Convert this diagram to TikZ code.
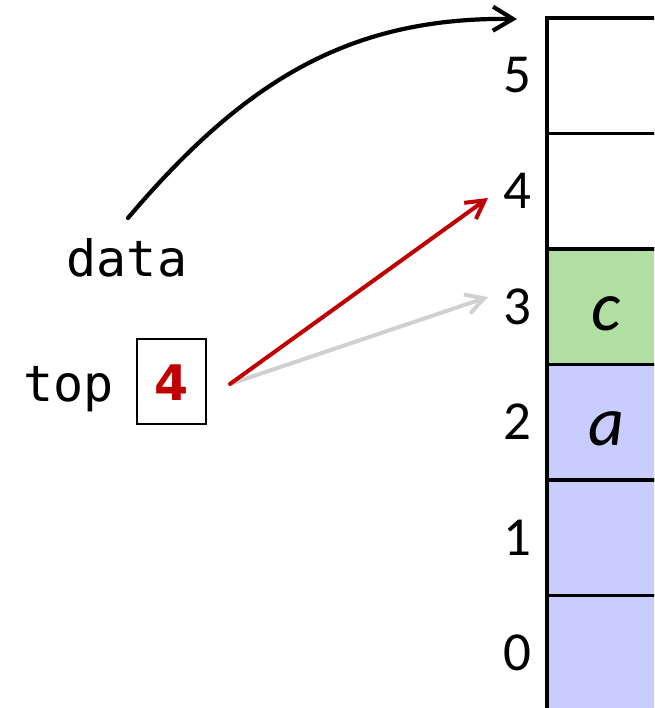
\documentclass[tikz,border=0pt]{standalone}
\usepackage{fontspec}
\setmainfont{Carlito}
\newfontfamily\monof{DejaVu Sans Mono}
\newfontfamily\boldsans{DejaVu Sans}
\usetikzlibrary{arrows.meta}
\definecolor{cellgreen}{RGB}{176,222,163}
\definecolor{cellblue}{RGB}{200,204,255}
\definecolor{valred}{RGB}{192,0,0}
\definecolor{ghost}{RGB}{208,208,208}
\tikzset{
  cell/.style={draw, line width=3.4pt, minimum width=170pt, minimum height=115.5pt,
    anchor=north west, inner sep=0pt, outer sep=0pt},
  idx/.style={anchor=base, inner sep=0pt, font=\fontsize{55}{60}\selectfont},
  val/.style={anchor=base, inner sep=0pt, font=\fontsize{70}{80}\selectfont\itshape},
  code/.style={anchor=base, inner sep=0pt, font=\fontsize{50}{58}\selectfont\monof},
  ptr/.style={line width=4pt, line cap=round, line join=round},
}
\begin{document}
\begin{tikzpicture}[x=1pt, y=-1pt]
\useasboundingbox (0,0) rectangle (654,708);
\clip (0,0) rectangle (654,708);
% stack cells
\node[cell] (c5) at (547,18) {};
\node[cell] (c4) at (547,133.5) {};
\node[cell, fill=cellgreen] (c3) at (547,249) {};
\node[cell, fill=cellblue] (c2) at (547,364.5) {};
\node[cell, fill=cellblue] (c1) at (547,480) {};
\node[cell, fill=cellblue] (c0) at (547,595.5) {};
% index labels
\node[idx] (l5) at (517,93) {5};
\node[idx] (l4) at (517,208.5) {4};
\node[idx] (l3) at (517,324) {3};
\node[idx] (l2) at (517,439.5) {2};
\node[idx] (l1) at (517,555) {1};
\node[idx] (l0) at (517,670.5) {0};
% values
\node[val] (vc) at (606,330) {c};
\node[val] (va) at (606,445) {a};
% variables
\node[code] (data) at (127,276) {data};
\node[code] (top) at (68.5,401) {top};
\node[draw, line width=2.8pt, minimum width=69pt, minimum height=85pt, inner sep=0pt] (topbox) at (171.5,381.5) {};
\node[anchor=base, inner sep=0pt, text=valred, font=\fontsize{49}{56}\selectfont\boldsans\bfseries] (topval) at (171.5,400.5) {4};
% connectors
\coordinate (dstart) at (128,218);
\coordinate (dend) at (517,19);
\coordinate (dc1) at (245,80);
\coordinate (dc2) at (350,17);
\draw[ptr, line width=4.2pt, -{Straight Barb[length=20pt, width=24pt]}] (dstart) .. controls (dc1) and (dc2) .. (dend);
\coordinate (tstart) at (230,384);
\coordinate (t4) at (488,198);
\coordinate (t3) at (488,297);
\draw[ptr, ghost, -{Straight Barb[length=18pt, width=20pt]}] (tstart) -- (t3);
\draw[ptr, valred, -{Straight Barb[length=18pt, width=20pt]}] (tstart) -- (t4);
\end{tikzpicture}
\end{document}
